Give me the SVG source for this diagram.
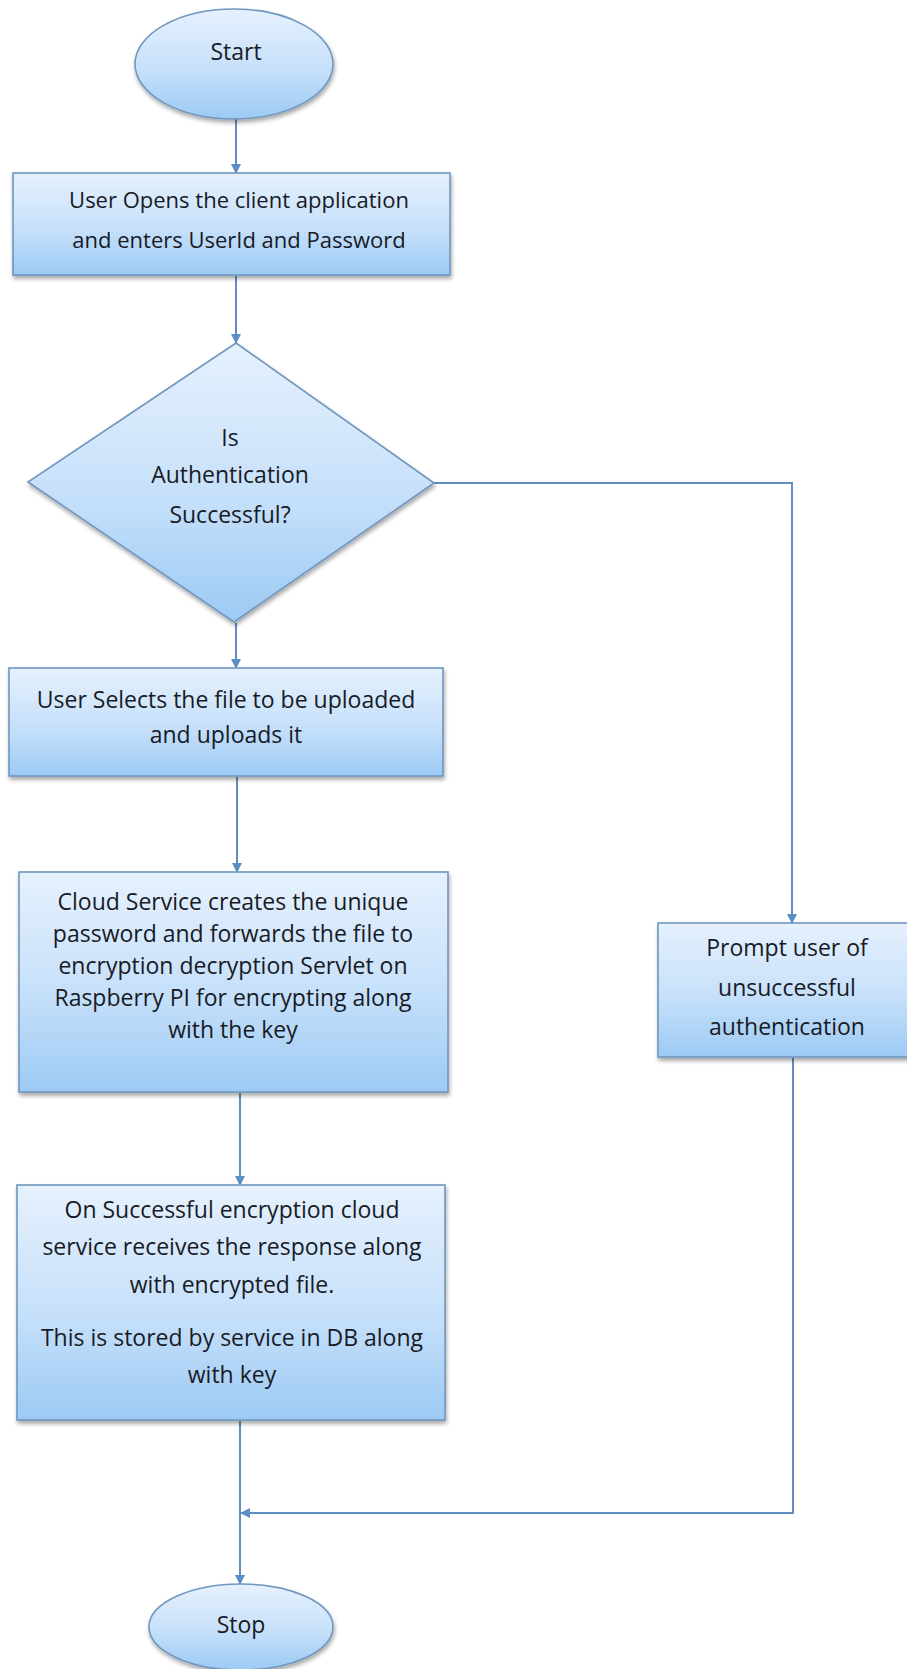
<svg xmlns="http://www.w3.org/2000/svg" width="907" height="1669" viewBox="0 0 907 1669">
  <defs>
    <linearGradient id="fillBlue" x1="0" y1="0" x2="0" y2="1">
      <stop offset="0" stop-color="#e6f1fd"/>
      <stop offset="0.55" stop-color="#c6e0fa"/>
      <stop offset="1" stop-color="#9ccaf4"/>
    </linearGradient>
    <filter id="shadow" x="-10%" y="-10%" width="125%" height="130%">
      <feGaussianBlur in="SourceAlpha" stdDeviation="2"/>
      <feOffset dx="1" dy="3" result="blur"/>
      <feComponentTransfer><feFuncA type="linear" slope="0.35"/></feComponentTransfer>
      <feMerge><feMergeNode/><feMergeNode in="SourceGraphic"/></feMerge>
    </filter>
    <marker id="arrow" viewBox="0 0 10 10" refX="9" refY="5" markerWidth="5" markerHeight="5" orient="auto" markerUnits="strokeWidth">
      <path d="M0,0 L10,5 L0,10 z" fill="#5b8ec4"/>
    </marker>
  </defs>
  <style>
    .shape { fill: url(#fillBlue); stroke: #7097bf; stroke-width: 1.6; filter: url(#shadow); }
    .label { font-family: "Open Sans", "Liberation Sans", sans-serif; font-size: 23px; fill: #181b26; text-anchor: middle; }
    .small { font-size: 22px; }
    .conn { fill: none; stroke: #5f8fc2; stroke-width: 2; marker-end: url(#arrow); }
  </style>

  <rect width="907" height="1669" fill="#ffffff"/>

  <!-- connectors -->
  <g id="connectors">
    <path class="conn" d="M236,119 L236,173"/>
    <path class="conn" d="M236,276 L236,343"/>
    <path class="conn" d="M236,623 L236,668"/>
    <path class="conn" d="M237,777 L237,872"/>
    <path class="conn" d="M240,1093 L240,1185"/>
    <path class="conn" d="M240,1421 L240,1584"/>
    <path class="conn" d="M434,483 L792,483 L792,923"/>
    <path class="conn" d="M793,1058 L793,1513 L241,1513"/>
  </g>

  <g id="start">
    <ellipse class="shape" cx="234" cy="64" rx="99" ry="55"/>
    <text class="label" x="236" y="60">Start</text>
  </g>

  <g id="open-app">
    <rect class="shape" x="13" y="173" width="437" height="102"/>
    <text class="label small" x="239" y="208">User Opens the client application</text>
    <text class="label small" x="239" y="248">and enters UserId and Password</text>
  </g>

  <g id="auth-check">
    <polygon class="shape" points="236,343 434,483 234,622 28,482"/>
    <text class="label" x="230" y="446">Is</text>
    <text class="label" x="230" y="483">Authentication</text>
    <text class="label" x="230" y="523">Successful?</text>
  </g>

  <g id="select-file">
    <rect class="shape" x="9" y="668" width="434" height="108"/>
    <text class="label" x="226" y="708">User Selects the file to be uploaded</text>
    <text class="label" x="226" y="743">and uploads it</text>
  </g>

  <g id="encrypt">
    <rect class="shape" x="19" y="872" width="429" height="220"/>
    <text class="label" x="233" y="910">Cloud Service creates the unique</text>
    <text class="label" x="233" y="942">password and forwards the file to</text>
    <text class="label" x="233" y="974">encryption decryption Servlet on</text>
    <text class="label" x="233" y="1006">Raspberry PI for encrypting along</text>
    <text class="label" x="233" y="1038">with the key</text>
  </g>

  <g id="store">
    <rect class="shape" x="17" y="1185" width="428" height="235"/>
    <text class="label" x="232" y="1218">On Successful encryption cloud</text>
    <text class="label" x="232" y="1255">service receives the response along</text>
    <text class="label" x="232" y="1293">with encrypted file.</text>
    <text class="label" x="232" y="1346">This is stored by service in DB along</text>
    <text class="label" x="232" y="1383">with key</text>
  </g>

  <g id="prompt-fail">
    <rect class="shape" x="658" y="923" width="268" height="134"/>
    <text class="label" x="787" y="956">Prompt user of</text>
    <text class="label" x="787" y="996">unsuccessful</text>
    <text class="label" x="787" y="1035">authentication</text>
  </g>

  <g id="stop">
    <ellipse class="shape" cx="241" cy="1627" rx="92" ry="43"/>
    <text class="label" x="241" y="1633">Stop</text>
  </g>
</svg>
